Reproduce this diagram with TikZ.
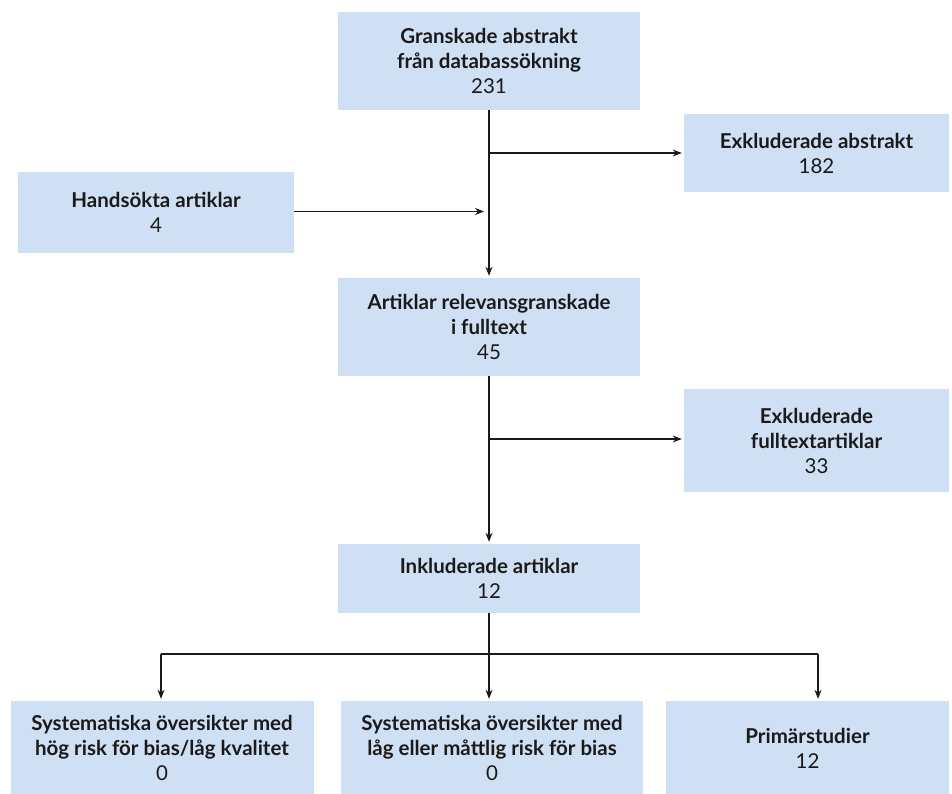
\documentclass[tikz,border=0pt]{standalone}
\usepackage{fontspec}
\setmainfont{Lato}
\usetikzlibrary{arrows.meta}
\definecolor{BoxBlue}{HTML}{CFE0F4}
\definecolor{Ink}{HTML}{1A1A1A}

\begin{document}
\begin{tikzpicture}[
    x=1pt,y=-1pt,
    box/.style={fill=BoxBlue, draw=none, inner sep=0pt,
      align=center, font=\fontsize{20.5}{25}\selectfont, text=Ink},
    link/.style={-{Stealth[length=9pt,width=7pt]}, line width=1.2pt,
      color=Ink, shorten >=2pt},
    wire/.style={line width=1.2pt, color=Ink}
  ]
    \useasboundingbox (0,0) rectangle (952,794);

    \node[box, minimum width=302pt, minimum height=98pt] (granskade) at (489,61) {
      \textbf{Granskade abstrakt}\\
      \textbf{från databassökning}\\
      231
    };

    \node[box, minimum width=265pt, minimum height=78pt] (exabstrakt) at (816.5,153) {
      \textbf{Exkluderade abstrakt}\\
      182
    };

    \node[box, minimum width=276pt, minimum height=81pt] (handsokta) at (156,212.5) {
      \textbf{Handsökta artiklar}\\
      4
    };

    \node[box, minimum width=302pt, minimum height=98pt] (relevans) at (489,327) {
      \textbf{Artiklar relevansgranskade}\\
      \textbf{i fulltext}\\
      45
    };

    \node[box, minimum width=265pt, minimum height=103pt] (exfulltext) at (816.5,440.5) {
      \textbf{Exkluderade}\\
      \textbf{fulltextartiklar}\\
      33
    };

    \node[box, minimum width=302pt, minimum height=69pt] (inkluderade) at (489,578.5) {
      \textbf{Inkluderade artiklar}\\
      12
    };

    \node[box, minimum width=303pt, minimum height=94pt] (hogrisk) at (162,748) {
      \textbf{Systematiska översikter med}\\
      \textbf{hög risk för bias/låg kvalitet}\\
      0
    };

    \node[box, minimum width=302pt, minimum height=94pt] (lagrisk) at (492,748) {
      \textbf{Systematiska översikter med}\\
      \textbf{låg eller måttlig risk för bias}\\
      0
    };

    \node[box, minimum width=283pt, minimum height=94pt] (primar) at (807.5,748) {
      \textbf{Primärstudier}\\
      12
    };

    % branch points
    \coordinate (split1) at (489,153);
    \coordinate (join1) at (486,211.5);
    \coordinate (split2) at (489,439);
    \coordinate (forkL) at (161,654);
    \coordinate (forkM) at (489,654);
    \coordinate (forkR) at (818,654);

    \draw[link] (granskade.south -| split1) -- (relevans.north -| split1);
    \draw[link] (split1) -- (exabstrakt.west |- split1);
    \draw[link] (handsokta.east |- join1) -- (join1);
    \draw[link] (relevans.south -| split2) -- (inkluderade.north -| split2);
    \draw[link] (split2) -- (exfulltext.west |- split2);

    \draw[wire] (inkluderade.south -| forkM) -- (forkM);
    \draw[wire] (forkL) -- (forkR);
    \draw[link] (forkL) -- (hogrisk.north -| forkL);
    \draw[link] (forkM) -- (lagrisk.north -| forkM);
    \draw[link] (forkR) -- (primar.north -| forkR);
  \end{tikzpicture}
\end{document}
